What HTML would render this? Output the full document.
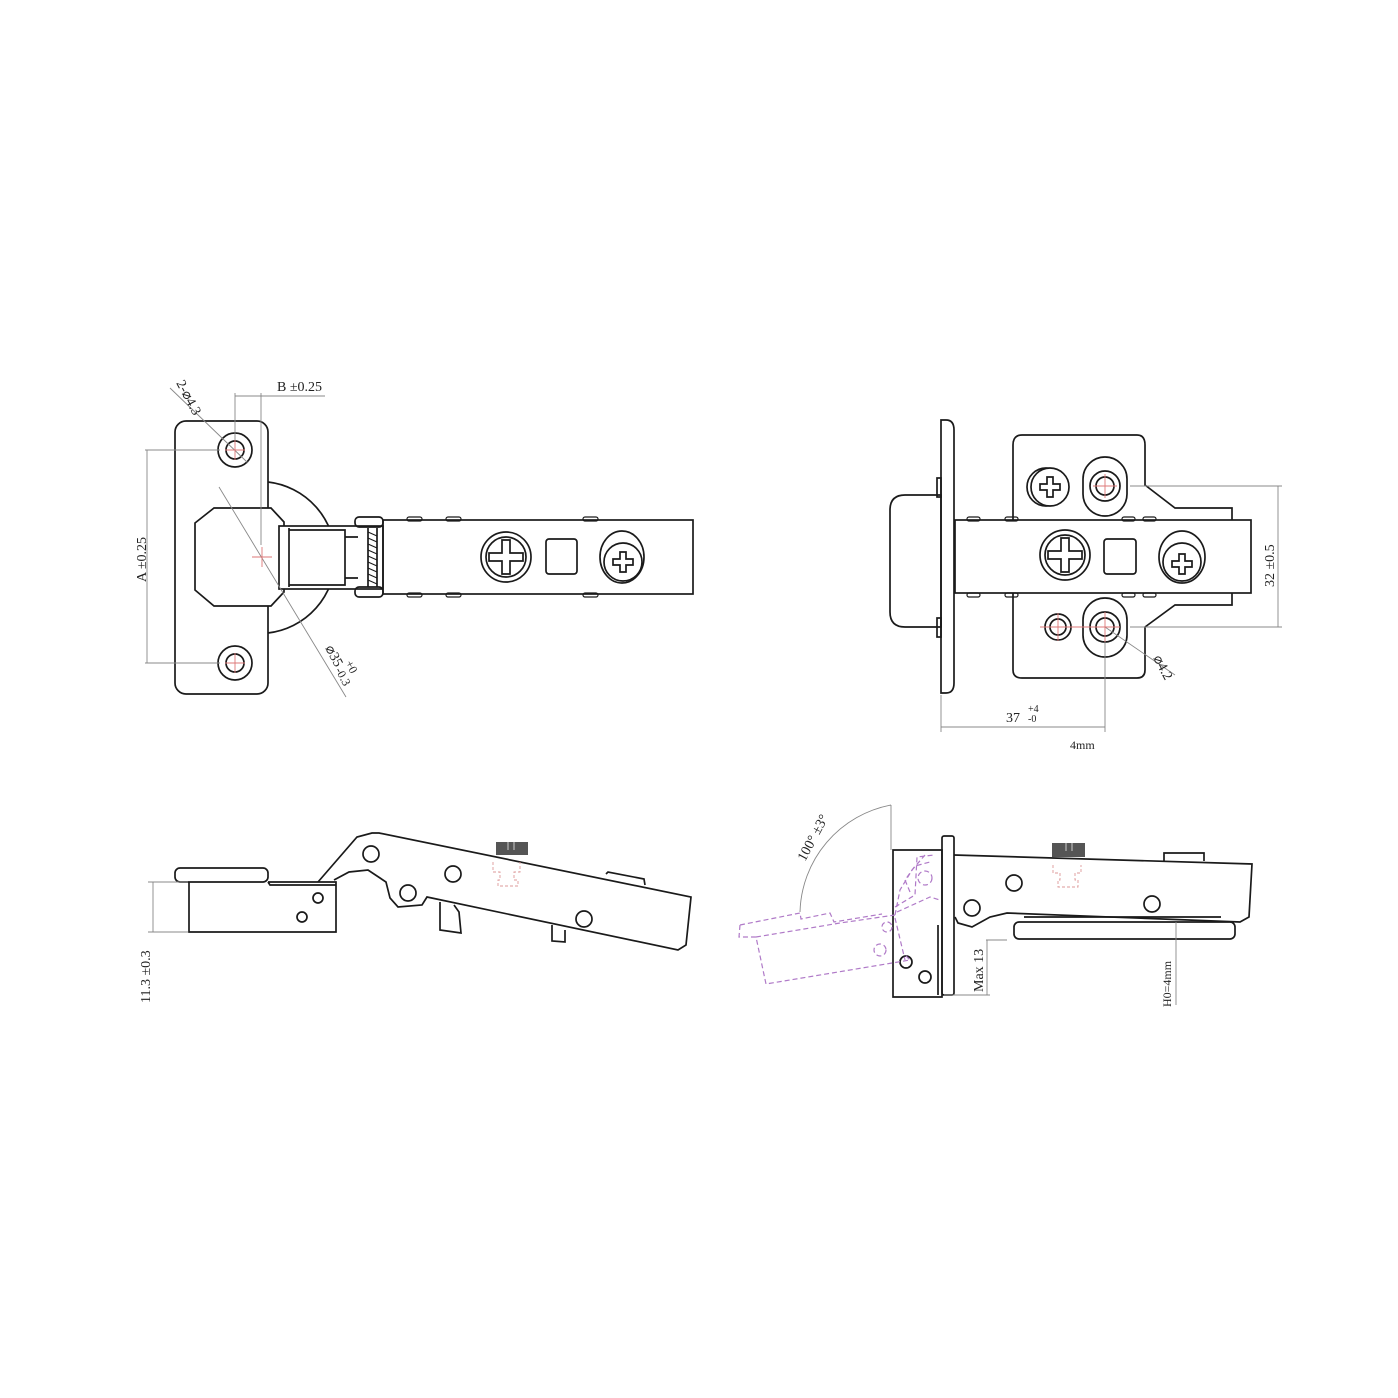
<!DOCTYPE html>
<html><head><meta charset="utf-8"><style>
html,body{margin:0;padding:0;background:#fff}
svg{display:block}
text{font-family:"Liberation Sans Narrow","Liberation Serif",serif;font-size:14px;fill:#222}
</style></head><body>
<svg width="1398" height="1398" viewBox="0 0 1398 1398" xmlns="http://www.w3.org/2000/svg">
<g fill="none" stroke="#1a1a1a" stroke-width="1.7">
<!-- ===== TOP LEFT ===== -->
<rect x="175" y="421" width="93" height="273" rx="11"/>
<circle cx="235" cy="450" r="17"/><circle cx="235" cy="450" r="9"/>
<circle cx="235" cy="663" r="17"/><circle cx="235" cy="663" r="9"/>
<path d="M268 482 A76 76 0 0 1 268 633"/>
<polygon points="214,508 271,508 284,522 284,592 271,606 214,606 195,590 195,523" fill="#fff"/>
<rect x="279" y="526" width="104" height="63" fill="#fff"/>
<path d="M289 528 V587 M289 530 H345 V537 H358 M289 585 H345 V578 H358 M345 537 V578"/>
<rect x="355" y="517" width="28" height="10" rx="4"/>
<rect x="355" y="587" width="28" height="10" rx="4"/>
<path d="M368 528 V587 M377 528 V587"/>
<path d="M368 532 L377 536 M368 538 L377 542 M368 544 L377 548 M368 550 L377 554 M368 556 L377 560 M368 562 L377 566 M368 568 L377 572 M368 574 L377 578 M368 580 L377 584" stroke-width="1"/>
<rect x="383" y="520" width="310" height="74"/>
<g stroke-width="1.2"><rect x="407" y="517" width="15" height="4" rx="2"/><rect x="446" y="517" width="15" height="4" rx="2"/><rect x="583" y="517" width="15" height="4" rx="2"/>
<rect x="407" y="593" width="15" height="4" rx="2"/><rect x="446" y="593" width="15" height="4" rx="2"/><rect x="583" y="593" width="15" height="4" rx="2"/></g>
<circle cx="506" cy="557" r="25"/><circle cx="506" cy="557" r="20"/>
<path d="M502 540 h8 v13 h13 v8 h-13 v13 h-8 v-13 h-13 v-8 h13z"/>
<rect x="546" y="539" width="31" height="35" rx="3"/>
<ellipse cx="622" cy="557" rx="22" ry="26"/><circle cx="623" cy="562" r="19"/>
<path d="M620 552 h6 v7 h7 v6 h-7 v7 h-6 v-7 h-7 v-6 h7z"/>
</g>
<g fill="none" stroke="#888" stroke-width="0.9">
<path d="M235 393 V440 M261 393 V545 M235 396 H325"/>
<path d="M145 450 H220 M145 663 H220 M147 450 V663"/>
<path d="M170 388 L248 463"/>
<path d="M219 487 L346 697"/>
</g>
<g stroke="#d77" stroke-width="0.9" fill="none">
<path d="M252 557 H272 M262 547 V567"/><path d="M235 440 V460 M225 450 H245 M235 653 V673 M225 663 H245"/>
</g>
<text x="277" y="391">B ±0.25</text>
<text transform="translate(176,383) rotate(62)">2-⌀4.3</text>
<text transform="translate(146,582) rotate(-90)">A ±0.25</text>
<text transform="translate(325,648) rotate(62)">⌀35</text>
<text transform="translate(345,663) rotate(62)" style="font-size:12px">+0</text>
<text transform="translate(335,670) rotate(62)" style="font-size:12px">-0.3</text>

<!-- ===== TOP RIGHT ===== -->
<g fill="none" stroke="#1a1a1a" stroke-width="1.7">
<path d="M890 510 Q890 495 905 495 H941 V627 H905 Q890 627 890 612 Z"/>
<path d="M941 420 H946 Q954 420 954 430 V683 Q954 693 946 693 H941 Z"/>
<rect x="937" y="478" width="4" height="19"/><rect x="937" y="618" width="4" height="19"/>
<path d="M1013 520 V445 Q1013 435 1022 435 H1137 Q1145 435 1145 445 V485 L1175 508 H1232 V520"/>
<path d="M1013 593 V670 Q1013 678 1022 678 H1137 Q1145 678 1145 670 V627 L1175 605 H1232 V593"/>
<rect x="955" y="520" width="296" height="73"/>
<g stroke-width="1.2"><rect x="967" y="517" width="13" height="4" rx="2"/><rect x="1005" y="517" width="13" height="4" rx="2"/><rect x="1122" y="517" width="13" height="4" rx="2"/><rect x="1143" y="517" width="13" height="4" rx="2"/>
<rect x="967" y="593" width="13" height="4" rx="2"/><rect x="1005" y="593" width="13" height="4" rx="2"/><rect x="1122" y="593" width="13" height="4" rx="2"/><rect x="1143" y="593" width="13" height="4" rx="2"/></g>
<circle cx="1065" cy="555" r="25"/><circle cx="1065" cy="555" r="20"/>
<path d="M1061 538 h8 v13 h13 v8 h-13 v13 h-8 v-13 h-13 v-8 h13z"/>
<rect x="1104" y="539" width="32" height="35" rx="3"/>
<ellipse cx="1182" cy="557" rx="23" ry="26"/><circle cx="1182" cy="562" r="19"/>
<path d="M1179 554 h6 v7 h7 v6 h-7 v7 h-6 v-7 h-7 v-6 h7z"/>
<circle cx="1046" cy="487" r="19"/><circle cx="1050" cy="487" r="19" fill="#fff"/>
<path d="M1047 477 h6 v7 h7 v6 h-7 v7 h-6 v-7 h-7 v-6 h7z"/>
<rect x="1083" y="457" width="44" height="59" rx="22"/><circle cx="1105" cy="486" r="15"/><circle cx="1105" cy="486" r="9"/>
<rect x="1083" y="598" width="44" height="59" rx="22"/><circle cx="1105" cy="627" r="15"/><circle cx="1105" cy="627" r="9"/>
<circle cx="1058" cy="627" r="13"/><circle cx="1058" cy="627" r="8"/>
</g>
<g fill="none" stroke="#888" stroke-width="0.9">
<path d="M1130 486 H1282 M1130 627 H1282 M1278 486 V627"/>
<path d="M1105 627 L1175 675"/>
<path d="M941 695 V732 M1105 640 V732 M941 727 H1105"/>
</g>
<g stroke="#d77" stroke-width="0.9" fill="none">
<path d="M1105 474 V498 M1093 486 H1117 M1105 612 V642 M1040 627 H1120 M1058 613 V641"/>
</g>
<text transform="translate(1274,587) rotate(-90)">32 ±0.5</text>
<text transform="translate(1153,658) rotate(62)">⌀4.2</text>
<text x="1006" y="722">37</text>
<text x="1028" y="712" style="font-size:10px">+4</text>
<text x="1028" y="722" style="font-size:10px">-0</text>
<text x="1070" y="749" style="font-size:12px">4mm</text>

<!-- ===== BOTTOM LEFT ===== -->
<g fill="none" stroke="#1a1a1a" stroke-width="1.7">
<rect x="175" y="868" width="93" height="14" rx="5"/>
<path d="M189 882 V932 H336 V882 H268 M268 882 L270 885 H336"/>
<circle cx="318" cy="898" r="5"/><circle cx="302" cy="917" r="5"/>
<path d="M318 882 L357 837 L372 833 L379 833 L691 897 L686 945 L678 950 L427 897 L422 905 L398 907 L390 898 L386 882 L368 870 L349 872 L334 880"/>
<path d="M440 902 V930 L461 933 L459 912 L454 905"/>
<path d="M552 925 V941 L565 942 V930"/>
<circle cx="371" cy="854" r="8"/><circle cx="453" cy="874" r="8"/><circle cx="408" cy="893" r="8"/><circle cx="584" cy="919" r="8"/>
<path d="M606 874 L608 872 L644 879 L645 885"/>
</g>
<rect x="496" y="842" width="32" height="13" fill="#555"/>
<path d="M508 842 V850 M514 842 V850" stroke="#ccc" stroke-width="1"/>
<path d="M493 862 V872 H500 V880 H498 V886 H518 V880 H514 V872 H520 V862" fill="none" stroke="#d99" stroke-width="0.9" stroke-dasharray="3,2"/>
<g fill="none" stroke="#888" stroke-width="0.9">
<path d="M148 882 H188 M148 932 H188 M153 882 V932"/>
</g>
<text transform="translate(150,1003) rotate(-90)">11.3 ±0.3</text>

<!-- ===== BOTTOM RIGHT ===== -->
<g fill="none" stroke="#1a1a1a" stroke-width="1.7">
<path d="M893 850 H942 V997 H893 Z"/>
<path d="M938 925 V995"/>
<rect x="942" y="836" width="12" height="159" rx="2"/>
<path d="M954 855 L1252 864 L1249 917 L1240 922 L1007 913 L990 917 L972 927 L958 923 L955 917"/>
<path d="M1024 917 H1221"/>
<rect x="1014" y="922" width="221" height="17" rx="5"/>
<circle cx="1014" cy="883" r="8"/><circle cx="972" cy="908" r="8"/><circle cx="1152" cy="904" r="8"/>
<circle cx="906" cy="962" r="6"/><circle cx="925" cy="977" r="6"/>
<path d="M1164 861 V853 H1204 V861"/>
</g>
<rect x="1052" y="843" width="33" height="14" fill="#555"/>
<path d="M1066 843 V851 M1072 843 V851" stroke="#ccc" stroke-width="1"/>
<path d="M1053 865 V873 H1060 V880 H1058 V887 H1078 V880 H1075 V873 H1081 V865" fill="none" stroke="#d99" stroke-width="0.9" stroke-dasharray="3,2"/>
<g fill="none" stroke="#b07ac8" stroke-width="1.2" stroke-dasharray="5,3">
<path d="M740 925 L739 937 L756 937 L766 984 L910 960 L905 955"/>
<path d="M740 925 L800 913 L801 919 L830 913 L834 922 L882 914"/>
<path d="M756 937 L840 923 L895 915"/>
<path d="M895 907 L915 895 L917 857 L934 855"/>
<path d="M910 892 L905 880 L915 866 L930 862"/>
<path d="M895 915 L900 890 L912 870 L925 855"/>
<path d="M897 912 L930 897 L940 900"/>
<path d="M895 918 L905 960"/>
<circle cx="925" cy="878" r="7"/><circle cx="880" cy="950" r="6"/><circle cx="887" cy="927" r="5"/>
</g>
<g fill="none" stroke="#888" stroke-width="0.9">
<path d="M891 805 V850"/>
<path d="M891 805 A112 112 0 0 0 800 912"/>
<path d="M986 940 H1007 M944 995 H990 M987 940 V995"/>
<path d="M1176 922 V1005"/>
</g>
<text transform="translate(805,862) rotate(-62)">100° ±3°</text>
<text transform="translate(983,992) rotate(-90)">Max 13</text>
<text transform="translate(1171,1007) rotate(-90)" style="font-size:12px">H0=4mm</text>
</svg>
</body></html>
